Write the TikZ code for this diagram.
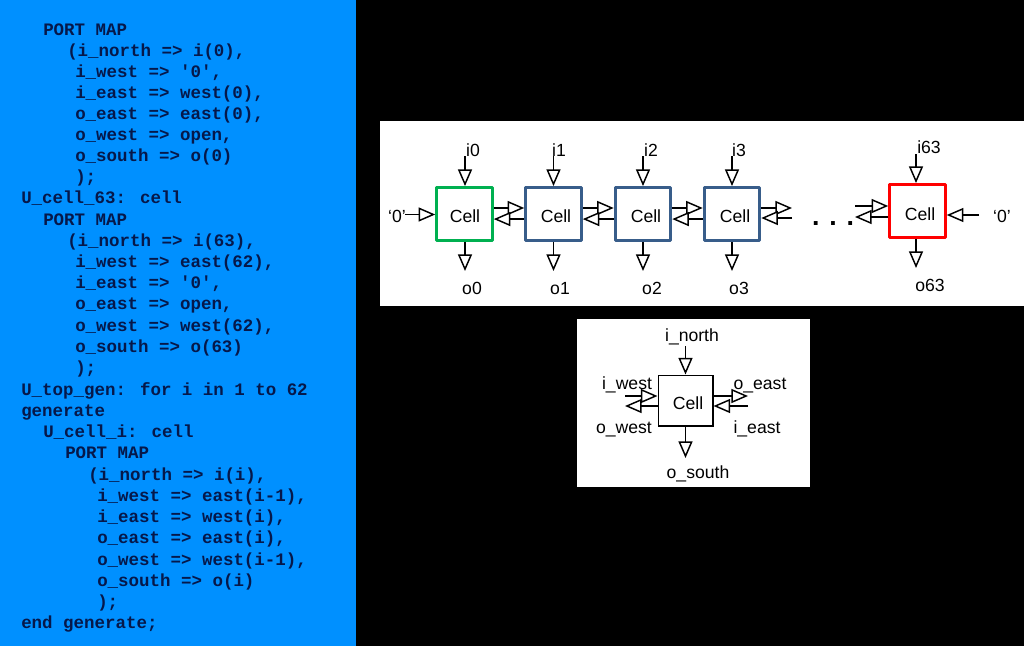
\documentclass[tikz,border=0pt]{standalone}
\usepackage{fontspec}
\setmainfont{Liberation Sans}
\newfontfamily\codefont{Liberation Mono}
\usetikzlibrary{arrows.meta}
\definecolor{codeblue}{HTML}{0090FF}
\definecolor{codeink}{HTML}{06184A}
\definecolor{cellgreen}{HTML}{00B050}
\definecolor{cellnavy}{HTML}{385D8A}
\definecolor{cellred}{HTML}{FF0000}
\tikzset{
  x=0.75pt,y=-0.75pt,
  code/.style={anchor=base west,inner sep=0pt,text=codeink,font=\codefont\bfseries\fontsize{13.1}{15}\selectfont},
  baselab/.style={anchor=base,inner sep=0pt,text=black,font=\fontsize{13.2}{15}\selectfont},
  panel/.style={fill=white,draw=none},
  cellbox/.style={draw=#1,line width=2.4pt,fill=white,minimum width=41.5pt,minimum height=39.5pt,inner sep=0pt,line join=round},
  plainbox/.style={draw=black,line width=1pt,fill=white,minimum width=41pt,minimum height=38pt,inner sep=0pt},
  port/.style={draw=black,line width=1.1pt,-{Triangle[open,fill=white,length=12.5pt,width=10.5pt,line width=1.1pt]}},
}
\begin{document}
\begin{tikzpicture}
\useasboundingbox (0,0) rectangle (1024,646);
\fill[black] (0,0) rectangle (1024,646);
\fill[codeblue] (0,0) rectangle (356,646);
\fill[panel] (380,121) rectangle (1024,306);
\fill[panel] (577,319) rectangle (810,487);
% code
\node[code] (l01) at (43,35) {PORT MAP};
\node[code] (l02) at (67,56) {(i\_north => i(0),};
\node[code] (l03) at (75,77) {i\_west => '0',};
\node[code] (l04) at (75,98) {i\_east => west(0),};
\node[code] (l05) at (75,119) {o\_east => east(0),};
\node[code] (l06) at (75,140) {o\_west => open,};
\node[code] (l07) at (75,161) {o\_south => o(0)};
\node[code] (l08) at (75,182) {);};
\node[code] (l09) at (21,203) {U\_cell\_63: cell};
\node[code] (l10) at (43,225) {PORT MAP};
\node[code] (l11) at (67,246) {(i\_north => i(63),};
\node[code] (l12) at (75,267) {i\_west => east(62),};
\node[code] (l13) at (75,288) {i\_east => '0',};
\node[code] (l14) at (75,309) {o\_east => open,};
\node[code] (l15) at (75,331) {o\_west => west(62),};
\node[code] (l16) at (75,352) {o\_south => o(63)};
\node[code] (l17) at (75,373) {);};
\node[code] (l18) at (21,395) {U\_top\_gen: for i in 1 to 62};
\node[code] (l19) at (21,416) {generate};
\node[code] (l20) at (43,437) {U\_cell\_i: cell};
\node[code] (l21) at (65,458) {PORT MAP};
\node[code] (l22) at (88,480) {(i\_north => i(i),};
\node[code] (l23) at (97,501) {i\_west => east(i-1),};
\node[code] (l24) at (97,522) {i\_east => west(i),};
\node[code] (l25) at (97,543) {o\_east => east(i),};
\node[code] (l26) at (97,565) {o\_west => west(i-1),};
\node[code] (l27) at (97,586) {o\_south => o(i)};
\node[code] (l28) at (97,607) {);};
\node[code] (l29) at (21,628) {end generate;};
% cells
\node[cellbox=cellgreen] (c0) at (464.5,214) {};
\node[cellbox=cellnavy] (c1) at (553.5,214) {};
\node[cellbox=cellnavy] (c2) at (643,214) {};
\node[cellbox=cellnavy] (c3) at (732,214) {};
\node[cellbox=cellred] (c63) at (917.5,211) {};
\node[baselab] (tc0) at (465,222) {Cell};
\node[baselab] (tc1) at (556,222) {Cell};
\node[baselab] (tc2) at (646,222) {Cell};
\node[baselab] (tc3) at (735,222) {Cell};
\node[baselab] (tc63) at (920,220) {Cell};
% labels
\node[baselab] (ti0) at (473,156) {i0};
\node[baselab] (ti1) at (559,156) {i1};
\node[baselab] (ti2) at (651,156) {i2};
\node[baselab] (ti3) at (739,156) {i3};
\node[baselab] (ti63) at (929,153) {i63};
\node[baselab] (to0) at (472,294) {o0};
\node[baselab] (to1) at (560,294) {o1};
\node[baselab] (to2) at (652,294) {o2};
\node[baselab] (to3) at (739,294) {o3};
\node[baselab] (to63) at (930,291) {o63};
\node[baselab] (zl) at (397,222) {‘0’};
\node[baselab] (zr) at (1002,222.5) {‘0’};
\node[anchor=base,inner sep=0pt,font=\bfseries\fontsize{20}{22}\selectfont] (dots) at (833,225) {. . .};
% free ends
\coordinate (n0) at (465,156); \coordinate (n1) at (553.5,156);
\coordinate (n2) at (643,156); \coordinate (n3) at (732,156);
\coordinate (n63) at (916,154);
\coordinate (s0) at (465,271); \coordinate (s1) at (553.5,271);
\coordinate (s2) at (643,271); \coordinate (s3) at (732,271);
\coordinate (s63) at (916,268);
\coordinate (wl) at (405,214.5); \coordinate (er) at (979,215);
\coordinate (c3a) at (792,208); \coordinate (c3b) at (792,218);
\coordinate (c63a) at (855,206); \coordinate (c63b) at (855,217);
% vertical ports
\foreach \c/\n/\s in {c0/n0/s0,c1/n1/s1,c2/n2/s2,c3/n3/s3,c63/n63/s63}{
  \draw[port] (\n) -- (\n |- \c.north);
  \draw[port] (\n |- \c.south) -- (\s);
}
% chain
\draw[port] (wl) -- (c0.west |- wl);
\foreach \a/\b in {c0/c1,c1/c2,c2/c3}{
  \draw[port] ([yshift=4.5pt]\a.east) -- ([yshift=4.5pt]\b.west);
  \draw[port] ([yshift=-3.8pt]\b.west) -- ([yshift=-3.8pt]\a.east);
}
\draw[port] (c3.east |- c3a) -- (c3a);
\draw[port] (c3b) -- (c3.east |- c3b);
\draw[port] (c63a) -- (c63.west |- c63a);
\draw[port] (c63.west |- c63b) -- (c63b);
\draw[port] (er) -- (c63.east |- er);
% single cell
\node[plainbox] (k) at (685.5,400.5) {};
\node[baselab] (tk) at (688,409) {Cell};
\node[baselab] (tin) at (692,341) {i\_north};
\node[baselab] (tos) at (698,478) {o\_south};
\node[baselab] (tiw) at (627,389) {i\_west};
\node[baselab] (tow) at (624,433) {o\_west};
\node[baselab] (toe) at (760,389) {o\_east};
\node[baselab] (tie) at (757,433) {i\_east};
\coordinate (kn) at (685.5,346); \coordinate (ks) at (685.5,458);
\coordinate (kwa) at (625,396); \coordinate (kwb) at (625,406);
\coordinate (kea) at (748,396); \coordinate (keb) at (748,406);
\draw[port] (kn) -- (k.north);
\draw[port] (k.south) -- (ks);
\draw[port] (kwa) -- (k.west |- kwa);
\draw[port] (k.west |- kwb) -- (kwb);
\draw[port] (k.east |- kea) -- (kea);
\draw[port] (keb) -- (k.east |- keb);
\end{tikzpicture}
\end{document}
